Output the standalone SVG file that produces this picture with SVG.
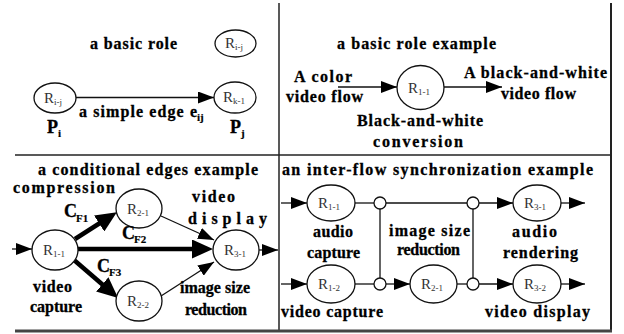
<svg xmlns="http://www.w3.org/2000/svg" width="624" height="334" viewBox="0 0 624 334">
<defs>
<style>
.t{font-family:"Liberation Serif","DejaVu Serif",serif;font-weight:bold;font-size:16px;fill:#000;stroke:#000;stroke-width:0.3}
.s{font-family:"Liberation Serif","DejaVu Serif",serif;font-weight:bold;font-size:11px;fill:#000;stroke:#000;stroke-width:0.2}
.big{font-family:"Liberation Serif","DejaVu Serif",serif;font-weight:bold;font-size:18px;fill:#000;stroke:#000;stroke-width:0.3}
.r{font-family:"Liberation Serif","DejaVu Serif",serif;font-size:15px;fill:#333}
.rs{font-family:"Liberation Serif","DejaVu Serif",serif;font-size:9px;fill:#333}
.n{fill:#fff;stroke:#111;stroke-width:1.3}
.e{fill:none;stroke:#111;stroke-width:1.3}
.ek{fill:none;stroke:#000;stroke-width:4.5}
.f{fill:none;stroke:#222;stroke-width:1.5}
</style>
<marker id="ah" viewBox="0 0 16 12" refX="16" refY="6" markerWidth="16" markerHeight="12" markerUnits="userSpaceOnUse" orient="auto"><path d="M0,0 L16,6 L0,12 z" fill="#000"/></marker>
<marker id="ahT" viewBox="0 0 21 19" refX="1" refY="9.5" markerWidth="21" markerHeight="19" markerUnits="userSpaceOnUse" orient="auto"><path d="M0,0 L21,9.5 L0,19 z" fill="#000"/></marker>
</defs>
<rect width="624" height="334" fill="#fff"/>
<g id="frame">
<line class="f" x1="279" y1="3" x2="279" y2="331"/>
<line class="f" x1="15" y1="155" x2="611" y2="155"/>
<line x1="611" y1="3" x2="611" y2="332" stroke="#222" stroke-width="2"/>
<line x1="15" y1="331" x2="612" y2="331" stroke="#444" stroke-width="3"/>
</g>
<g id="connectors">
<line class="e" stroke-width="1.8" x1="76" y1="97.5" x2="214" y2="97.5" marker-end="url(#ah)"/>
<line class="e" x1="338" y1="87" x2="397" y2="87" marker-end="url(#ah)"/>
<line class="e" x1="444" y1="87" x2="502" y2="87" marker-end="url(#ah)"/>
<line class="e" x1="12" y1="249" x2="32" y2="249" marker-end="url(#ah)"/>
<line class="ek" x1="75" y1="239" x2="100" y2="223" marker-end="url(#ahT)"/>
<line class="ek" x1="78" y1="249" x2="193" y2="249" marker-end="url(#ahT)"/>
<line class="ek" x1="74" y1="260" x2="103" y2="285" marker-end="url(#ahT)"/>
<line class="e" x1="161" y1="216" x2="214" y2="240" marker-end="url(#ah)"/>
<line class="e" x1="161" y1="296" x2="214" y2="262" marker-end="url(#ah)"/>
<line class="e" x1="259" y1="250" x2="278" y2="250" marker-end="url(#ah)"/>
<line class="e" x1="281" y1="203" x2="307" y2="203" marker-end="url(#ah)"/>
<line class="e" x1="355" y1="203" x2="374" y2="203"/>
<line class="e" x1="386" y1="203" x2="467" y2="203"/>
<line class="e" x1="479" y1="203" x2="513" y2="203" marker-end="url(#ah)"/>
<line class="e" x1="561" y1="203" x2="585" y2="203" marker-end="url(#ah)"/>
<line class="e" x1="281" y1="284" x2="307" y2="284" marker-end="url(#ah)"/>
<line class="e" x1="355" y1="284" x2="374" y2="284"/>
<line class="e" x1="386" y1="284" x2="410" y2="284" marker-end="url(#ah)"/>
<line class="e" x1="457" y1="284" x2="467" y2="284"/>
<line class="e" x1="479" y1="284" x2="513" y2="284" marker-end="url(#ah)"/>
<line class="e" x1="561" y1="284" x2="585" y2="284" marker-end="url(#ah)"/>
<line class="e" x1="380" y1="209" x2="380" y2="278"/>
<line class="e" x1="473" y1="209" x2="473" y2="278"/>
<circle class="n" cx="380" cy="203" r="6"/>
<circle class="n" cx="473" cy="203" r="6"/>
<circle class="n" cx="380" cy="284" r="6"/>
<circle class="n" cx="473" cy="284" r="6"/>
</g>
<g id="tl-role"><ellipse class="n" cx="55" cy="98" rx="21" ry="15"/><text class="r" x="44" y="103">R</text><text class="rs" x="54" y="105">i-j</text></g>
<g id="tl-role2"><ellipse class="n" cx="235.5" cy="43.5" rx="20.5" ry="13.5"/><text class="r" x="225" y="48">R</text><text class="rs" x="235" y="50">i-j</text></g>
<g id="tl-rolek"><ellipse class="n" cx="235" cy="97.5" rx="21" ry="15.5"/><text class="r" x="223" y="102">R</text><text class="rs" x="233" y="104">k-1</text></g>
<g id="tr-r11"><ellipse class="n" cx="420.5" cy="87.5" rx="23.5" ry="22"/><text class="r" x="408" y="93">R</text><text class="rs" x="418" y="95">1-1</text></g>
<g id="bl-r11"><ellipse class="n" cx="55" cy="250" rx="23" ry="20"/><text class="r" x="43" y="255">R</text><text class="rs" x="53" y="257">1-1</text></g>
<g id="bl-r21"><ellipse class="n" cx="139" cy="208.5" rx="23" ry="19.5"/><text class="r" x="127" y="214">R</text><text class="rs" x="137" y="216">2-1</text></g>
<g id="bl-r22"><ellipse class="n" cx="139" cy="301" rx="23" ry="20"/><text class="r" x="127" y="306">R</text><text class="rs" x="137" y="308">2-2</text></g>
<g id="bl-r31"><ellipse class="n" cx="236" cy="250" rx="23" ry="20"/><text class="r" x="224" y="255">R</text><text class="rs" x="234" y="257">3-1</text></g>
<g id="br-r11"><ellipse class="n" cx="331" cy="203" rx="24" ry="18"/><text class="r" x="318" y="208">R</text><text class="rs" x="328" y="210">1-1</text></g>
<g id="br-r31"><ellipse class="n" cx="537" cy="203" rx="24" ry="18"/><text class="r" x="524" y="208">R</text><text class="rs" x="534" y="210">3-1</text></g>
<g id="br-r12"><ellipse class="n" cx="331" cy="284" rx="24" ry="19"/><text class="r" x="318" y="289">R</text><text class="rs" x="328" y="291">1-2</text></g>
<g id="br-r21"><ellipse class="n" cx="433.5" cy="284" rx="23.5" ry="19"/><text class="r" x="421" y="289">R</text><text class="rs" x="431" y="291">2-1</text></g>
<g id="br-r32"><ellipse class="n" cx="537" cy="284" rx="24" ry="19"/><text class="r" x="524" y="289">R</text><text class="rs" x="534" y="291">3-2</text></g>
<g id="labels">
<text class="t" x="90" y="49" textLength="87">a basic role</text>
<text class="t" x="79" y="117" textLength="118">a simple edge e</text>
<text class="s" x="197" y="121">ij</text>
<text class="big" x="47" y="133">P</text><text class="s" x="58" y="137">i</text>
<text class="big" x="230" y="133">P</text><text class="s" x="241" y="137">j</text>
<text class="t" x="337" y="49" textLength="159">a basic role example</text>
<text class="t" x="294" y="82" textLength="58">A color</text>
<text class="t" x="286" y="102" textLength="77">video flow</text>
<text class="t" x="464" y="78" textLength="143">A black-and-white</text>
<text class="t" x="501" y="99" textLength="75">video flow</text>
<text class="t" x="357" y="126" textLength="126">Black-and-white</text>
<text class="t" x="373" y="147" textLength="90">conversion</text>
<text class="t" x="38" y="175" textLength="220">a conditional edges example</text>
<text class="t" x="13" y="193" textLength="102">compression</text>
<text class="t" x="192" y="202" textLength="43">video</text>
<text class="t" x="188" y="224" textLength="79">display</text>
<text class="big" x="64" y="217">C</text><text class="s" x="76" y="222">F1</text>
<text class="big" x="122" y="239">C</text><text class="s" x="134" y="243">F2</text>
<text class="big" x="97" y="272">C</text><text class="s" x="109" y="276">F3</text>
<text class="t" x="33" y="292" textLength="39">video</text>
<text class="t" x="30" y="312" textLength="52">capture</text>
<text class="t" x="180" y="293" textLength="70">image size</text>
<text class="t" x="185" y="315" textLength="62">reduction</text>
<text class="t" x="282" y="175" textLength="311">an inter-flow synchronization example</text>
<text class="t" x="313" y="237" textLength="40">audio</text>
<text class="t" x="307" y="258" textLength="53">capture</text>
<text class="t" x="389" y="236" textLength="81">image size</text>
<text class="t" x="397" y="255" textLength="63">reduction</text>
<text class="t" x="512" y="237" textLength="45">audio</text>
<text class="t" x="503" y="258" textLength="75">rendering</text>
<text class="t" x="281" y="317" textLength="102">video capture</text>
<text class="t" x="485" y="317" textLength="105">video display</text>
</g>
</svg>
